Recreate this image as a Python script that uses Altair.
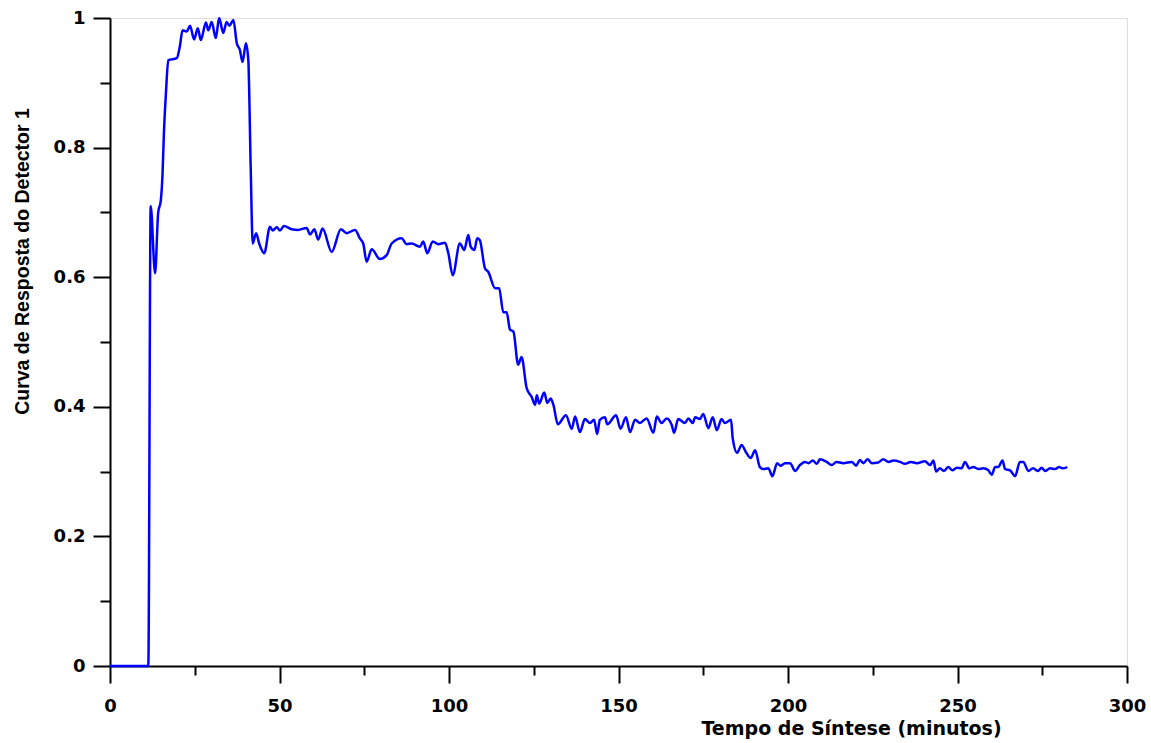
import altair as alt
import pandas as pd

# Time (minutes) and detector response
minutes = [0, 11.3, 12.0, 13.3, 14.2, 15.0, 15.5, 15.9, 16.5, 17.2, 19.7, 20.6, 21.4, 22.6, 23.6, 24.8,
           25.9, 26.8, 28.3, 29.0, 30.0, 31.2, 32.2, 33.4, 34.4, 35.2, 36.4, 37.4, 38.3, 39.1, 40.1,
           40.8, 41.5, 42.1, 43.1, 44.0, 45.5, 47.2, 48.0, 49.2, 50.1, 51.3, 53.6, 55.5, 58.0, 59.0,
           60.3, 61.4, 62.7, 65.4, 68.1, 69.8, 72.3, 73.7, 74.7, 75.7, 77.2, 79.6, 81.6, 83.1, 86.0,
           87.5, 89.0, 91.4, 92.4, 93.6, 95.2, 96.8, 98.8, 99.8, 101.1, 103.2, 104.5, 105.7, 106.4,
           107.5, 108.3, 109.1, 110.6, 111.6, 113.6, 114.8, 116.0, 117.0, 118.0, 119.0, 120.4, 121.4,
           122.9, 124.4, 125.4, 125.9, 126.6, 128.1, 129.0, 130.0, 130.8, 132.1, 134.5, 136.2, 137.2,
           138.6, 140.1, 141.6, 142.8, 143.7, 144.5, 146.0, 146.7, 149.3, 150.6, 152.2, 153.4, 154.9,
           156.3, 158.3, 160.3, 161.3, 162.7, 164.2, 165.7, 166.4, 167.6, 169.6, 170.6, 171.9, 172.6,
           174.0, 175.0, 176.5, 177.8, 179.0, 180.4, 181.4, 183.2, 183.7, 185.0, 186.3, 187.6, 189.0,
           190.3, 191.7, 192.7, 194.2, 195.4, 196.8, 197.8, 199.1, 200.6, 202.1, 203.5, 205.0, 206.0,
           207.3, 208.5, 209.4, 211.4, 212.9, 214.3, 216.3, 218.8, 220.1, 221.2, 222.2, 223.5, 224.7,
           226.6, 228.1, 229.6, 231.1, 233.0, 234.5, 236.2, 238.0, 240.4, 241.9, 242.9, 243.7, 244.8,
           246.0, 247.3, 248.5, 249.8, 251.2, 252.2, 253.5, 254.7, 256.1, 257.6, 259.1, 260.1, 261.1,
           262.0, 263.3, 264.0, 265.5, 267.0, 268.4, 269.4, 270.9, 272.3, 273.8, 274.8, 275.8, 277.3,
           278.8, 280.0, 281.0, 282.4]
response = [0, 0, 0.71, 0.606, 0.699, 0.719, 0.76, 0.822, 0.884, 0.935, 0.938, 0.956, 0.981, 0.979, 0.988, 0.967,
            0.984, 0.966, 0.993, 0.981, 0.994, 0.969, 1.0, 0.977, 0.994, 0.988, 0.997, 0.961, 0.951, 0.932, 0.961,
            0.935, 0.77, 0.652, 0.668, 0.652, 0.637, 0.678, 0.672, 0.677, 0.672, 0.679, 0.674, 0.673, 0.676, 0.666,
            0.674, 0.658, 0.675, 0.639, 0.674, 0.668, 0.673, 0.66, 0.652, 0.624, 0.643, 0.628, 0.634, 0.652, 0.66,
            0.651, 0.652, 0.647, 0.655, 0.637, 0.655, 0.651, 0.653, 0.637, 0.603, 0.652, 0.642, 0.665, 0.647,
            0.642, 0.66, 0.657, 0.614, 0.608, 0.583, 0.583, 0.546, 0.546, 0.519, 0.516, 0.465, 0.477,
            0.429, 0.415, 0.403, 0.418, 0.405, 0.422, 0.406, 0.413, 0.403, 0.373, 0.387, 0.366, 0.385,
            0.361, 0.381, 0.375, 0.38, 0.358, 0.38, 0.384, 0.373, 0.387, 0.366, 0.384, 0.361, 0.38,
            0.375, 0.382, 0.36, 0.385, 0.375, 0.382, 0.372, 0.36, 0.381, 0.375, 0.382, 0.375, 0.384,
            0.381, 0.389, 0.367, 0.384, 0.364, 0.381, 0.375, 0.38, 0.351, 0.329, 0.341, 0.33, 0.321,
            0.333, 0.307, 0.304, 0.305, 0.293, 0.313, 0.309, 0.313, 0.313, 0.301, 0.31, 0.315, 0.313,
            0.317, 0.312, 0.319, 0.315, 0.31, 0.315, 0.313, 0.315, 0.309, 0.318, 0.313, 0.319, 0.313,
            0.314, 0.319, 0.315, 0.317, 0.315, 0.312, 0.315, 0.313, 0.316, 0.31, 0.317, 0.3, 0.305,
            0.301, 0.307, 0.302, 0.306, 0.305, 0.315, 0.305, 0.307, 0.304, 0.305, 0.302, 0.295, 0.307,
            0.307, 0.317, 0.304, 0.302, 0.293, 0.315, 0.315, 0.301, 0.305, 0.301, 0.306, 0.301, 0.305,
            0.304, 0.307, 0.305, 0.307]

x_major = [0, 50, 100, 150, 200, 250, 300]
x_minor = [25, 75, 125, 175, 225, 275]
y_major = [0, 0.2, 0.4, 0.6, 0.8, 1.0]
y_minor = [0.1, 0.3, 0.5, 0.7, 0.9]

df = pd.DataFrame({"t": minutes, "r": response})

WIDE = "DejaVu Sans"
NARROW = "Liberation Sans"
xscale = alt.Scale(domain=[0, 300], nice=False, zero=False)
yscale = alt.Scale(domain=[0, 1], nice=False, zero=False)

common_axis = dict(domainColor="black", domainWidth=2, tickColor="black", tickWidth=2,
                   grid=False, labelFont=WIDE, labelFontSize=18, labelFontWeight="bold",
                   labelColor="black", labelFlush=False, labelOverlap=False,
                   titleFontWeight="bold", titleColor="black")

line = alt.Chart(df).mark_line(color="#0000FF", strokeWidth=2.5, interpolate="monotone").encode(
    x=alt.X("t:Q", scale=xscale,
            axis=alt.Axis(values=x_major, tickSize=17, labelPadding=14, format="d",
                          title="Tempo de Síntese (minutos)", titleFont=WIDE, titleFontSize=19,
                          titleX=741, titleAlign="center", titlePadding=4, orient="bottom",
                          **common_axis)),
    y=alt.Y("r:Q", scale=yscale,
            axis=alt.Axis(values=y_major, tickSize=17, labelPadding=8, format="~g",
                          title="Curva de Resposta do Detector 1", titleFont=NARROW, titleFontSize=19.5,
                          titleY=243, titleAlign="center", titlePadding=21, orient="left",
                          **common_axis)),
)

minor_axis = dict(tickColor="black", tickWidth=2, domain=False, labels=False, grid=False, title=None)

minor = alt.Chart(df).mark_point(opacity=0).encode(
    x=alt.X("t:Q", scale=xscale, axis=alt.Axis(values=x_minor, tickSize=9, orient="bottom", **minor_axis)),
    y=alt.Y("r:Q", scale=yscale, axis=alt.Axis(values=y_minor, tickSize=10, orient="left", **minor_axis)),
)

chart = alt.layer(line, minor).resolve_axis(x="independent", y="independent").properties(
    width=1017, height=648,
    autosize=alt.AutoSizeParams(type="none"),
    padding={"left": 110, "top": 18, "right": 24, "bottom": 77},
).configure_view(stroke=None).configure(background="white")

chart.save("out.html", embed_options={"renderer": "svg", "actions": False})
